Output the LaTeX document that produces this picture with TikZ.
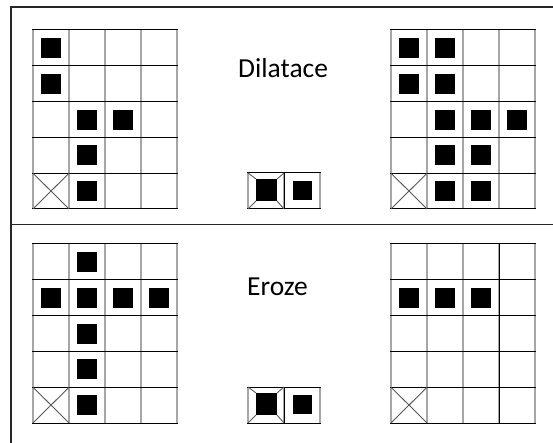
\documentclass[tikz,border=0pt]{standalone}
\usepackage{fontspec}
\setmainfont{Carlito}
\begin{document}
\begin{tikzpicture}[x=1pt,y=-1pt,
 hline/.style={black,line width=1pt},
 vline/.style={black!35,line width=2.5pt},
 frame/.style={black!85,line width=1.6pt},
 cross/.style={black!65,line width=0.9pt},
 lbl/.style={font=\fontsize{27.5}{32}\selectfont, anchor=base west, inner sep=0pt}]
\useasboundingbox (0,0) rectangle (553,443);
\fill[white] (0,0) rectangle (553,443);
\newcommand\gridat[3]{%
 \begin{scope}[shift={(#1,#2)}]
 \foreach \i in {0,...,4} \draw[vline] (36*\i,0) -- (36*\i,179);
 \foreach \j in {0,...,5} \draw[hline] (-1,35.8*\j) -- (145,35.8*\j);
 \draw[cross] (0,143.2) -- (36,179) (0,179) -- (36,143.2);
 \foreach \c/\r in {#3} \fill (36*\c+8,35.8*\r+8) rectangle ++(20,20);
 \end{scope}}
\newcommand\selem[2]{%
 \begin{scope}[shift={(#1,#2)}]
 \draw[vline] (0,0) -- (0,36) (36,0) -- (36,36) (72,0) -- (72,36);
 \draw[hline] (-1,0) -- (73,0) (-1,36) -- (73,36) (36,0) -- (36,36);
 \draw[cross] (0,0) -- (8,6) (36,0) -- (29,6) (0,36) -- (8,28) (36,36) -- (29,28);
 \fill (8,6) rectangle (29,28);
 \fill (45,8) rectangle (64,27);
 \end{scope}}
% frame
\draw[frame] (553,7) -- (11,7) -- (11,443);
\draw[frame] (11,224.5) -- (553,224.5);
% grids
\gridat{33}{30}{0/0,0/1,1/2,2/2,1/3,1/4}
\gridat{391}{30}{0/0,1/0,0/1,1/1,1/2,2/2,3/2,1/3,2/3,1/4,2/4}
\gridat{33}{244}{1/0,0/1,1/1,2/1,3/1,1/2,1/3,1/4}
\gridat{391}{244}{0/1,1/1,2/1}
\draw[hline] (499,244) -- (499,423);
% structuring elements
\selem{248}{173}
\selem{248}{387}
% labels
\node[lbl] (dil) at (238,78) {Dilatace};
\node[lbl] (ero) at (247,295) {Eroze};
\end{tikzpicture}
\end{document}
